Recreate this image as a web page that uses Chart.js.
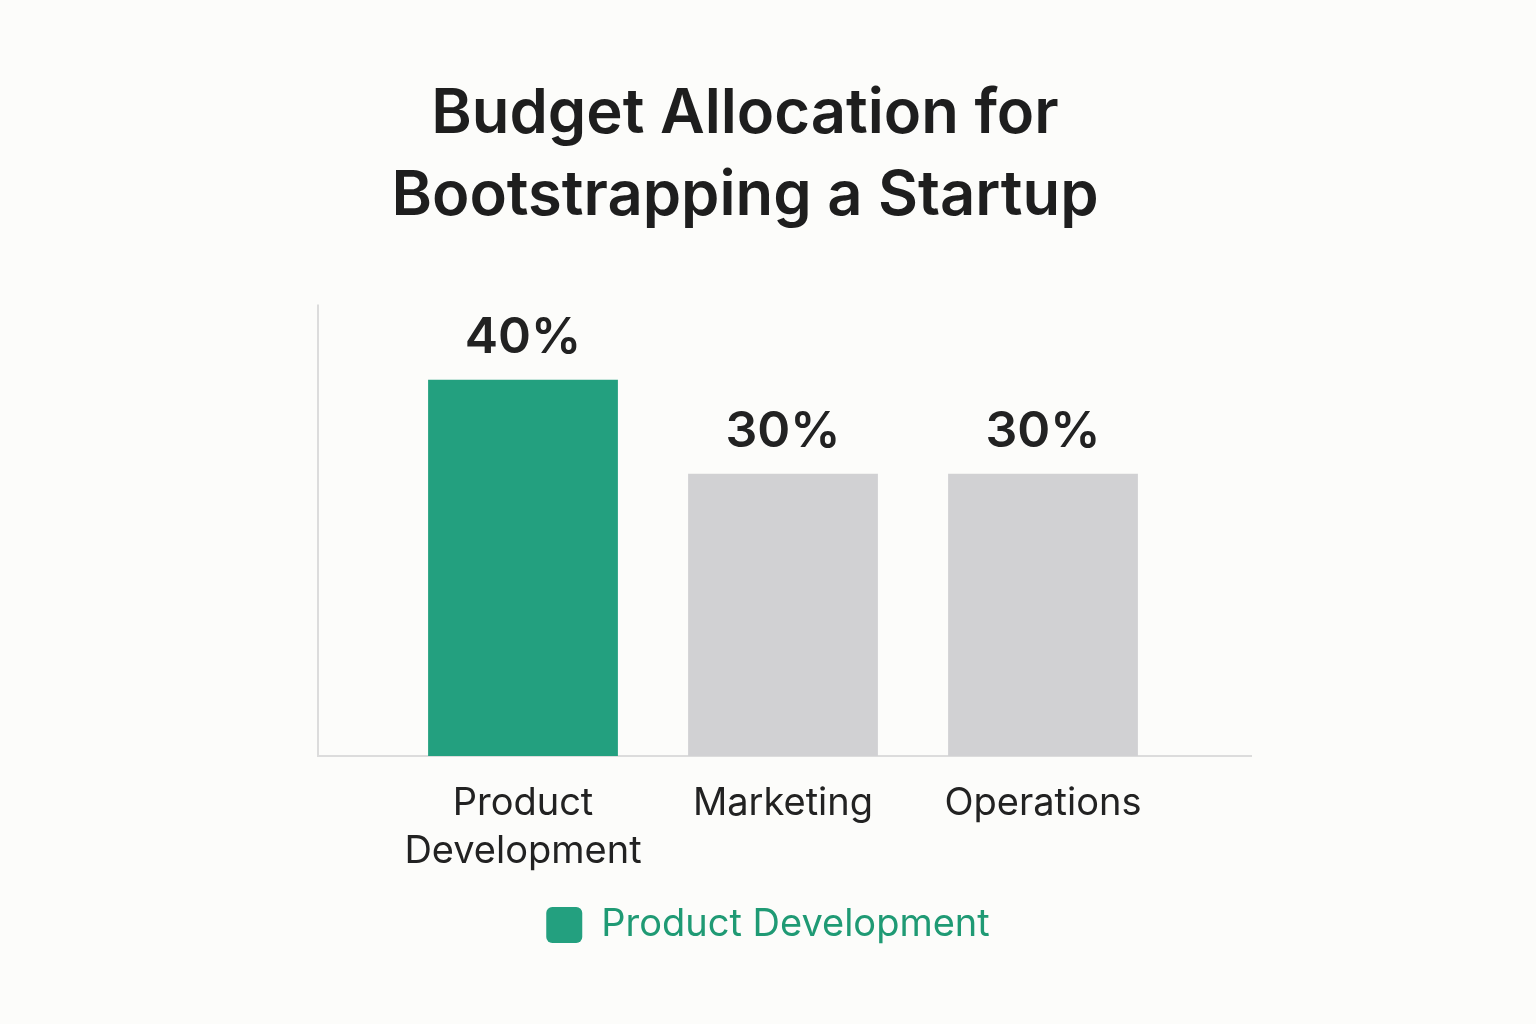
<!DOCTYPE html>
<html>
<head>
<meta charset="utf-8">
<title>Budget Allocation for Bootstrapping a Startup</title>
<script src="https://cdn.jsdelivr.net/npm/chart.js@4.4.1/dist/chart.umd.min.js"></script>
<style>
  body { margin: 0; background: #fcfcfa; }
  .wrap { width: 1536px; height: 1024px; }
</style>
</head>
<body>
<div class="wrap"><canvas id="budget"></canvas></div>
<script>
const categories = [['Product', 'Development'], 'Marketing', 'Operations'];
const shares = [40, 30, 30];
const barColors = ['#23a07f', '#d1d1d3', '#d1d1d3'];
const titleLines = ['Budget Allocation for', 'Bootstrapping a Startup'];
const legendLabel = 'Product Development';

Chart.defaults.font.family = 'Inter, "Noto Sans", sans-serif';
Chart.defaults.color = '#222';

// pourcentages au-dessus des barres
const valueLabels = {
  id: 'valueLabels',
  afterDatasetsDraw(chart) {
    const ctx = chart.ctx;
    const meta = chart.getDatasetMeta(0);
    ctx.save();
    ctx.font = '600 50px Inter';
    ctx.fillStyle = '#222';
    ctx.textAlign = 'center';
    ctx.textBaseline = 'alphabetic';
    meta.data.forEach((bar, i) => {
      ctx.fillText(shares[i] + '%', bar.x, bar.y - 27);
    });
    ctx.restore();
  }
};

// axes gris clair, plus larges que la zone des barres
const axisLines = {
  id: 'axisLines',
  beforeDatasetsDraw(chart) {
    const {ctx, chartArea, scales} = chart;
    const left = scales.y.left + 1;
    ctx.save();
    ctx.strokeStyle = '#dcdcdc';
    ctx.lineWidth = 2;
    ctx.beginPath();
    ctx.moveTo(left, chartArea.top);
    ctx.lineTo(left, chartArea.bottom);
    ctx.lineTo(chartArea.right + 79, chartArea.bottom);
    ctx.stroke();
    ctx.restore();
  }
};

// légende centrée sur toute la largeur du canvas
const centerLegend = {
  id: 'centerLegend',
  afterLayout(chart) {
    const lg = chart.legend;
    lg.left = 0;
    lg.right = chart.width;
    lg.width = chart.width;
  }
};

new Chart(document.getElementById('budget'), {
  type: 'bar',
  data: {
    labels: categories,
    datasets: [{
      label: legendLabel,
      data: shares,
      backgroundColor: barColors,
      borderWidth: 0,
      barPercentage: 0.73,
      categoryPercentage: 1
    }]
  },
  options: {
    responsive: true,
    maintainAspectRatio: false,
    animation: false,
    layout: {
      padding: { left: 317, right: 363, top: 0, bottom: 70 }
    },
    plugins: {
      title: {
        display: true,
        text: titleLines,
        color: '#1e1e1e',
        font: { size: 61.5, weight: '600', lineHeight: 1.33 },
        padding: { top: 74, bottom: 67 }
      },
      legend: {
        position: 'bottom',
        labels: {
          boxWidth: 36,
          boxHeight: 36,
          useBorderRadius: true,
          borderRadius: 6,
          color: '#1f9a74',
          font: { size: 38 },
          padding: 7,
          generateLabels: () => [{
            text: legendLabel,
            fillStyle: barColors[0],
            strokeStyle: barColors[0],
            lineWidth: 0,
            borderRadius: 6,
            fontColor: '#1f9a74',
            datasetIndex: 0
          }]
        }
      },
      tooltip: { enabled: false }
    },
    scales: {
      x: {
        grid: { display: false, drawTicks: false },
        border: { display: false },
        ticks: { font: { size: 38, lineHeight: 1.25 }, color: '#222', padding: 24 }
      },
      y: {
        min: 0,
        max: 48,
        grid: { display: false, drawTicks: false },
        border: { display: false },
        ticks: { display: false },
        afterFit(scale) { scale.width = 76; }
      }
    }
  },
  plugins: [axisLines, valueLabels, centerLegend]
});
</script>
</body>
</html>
